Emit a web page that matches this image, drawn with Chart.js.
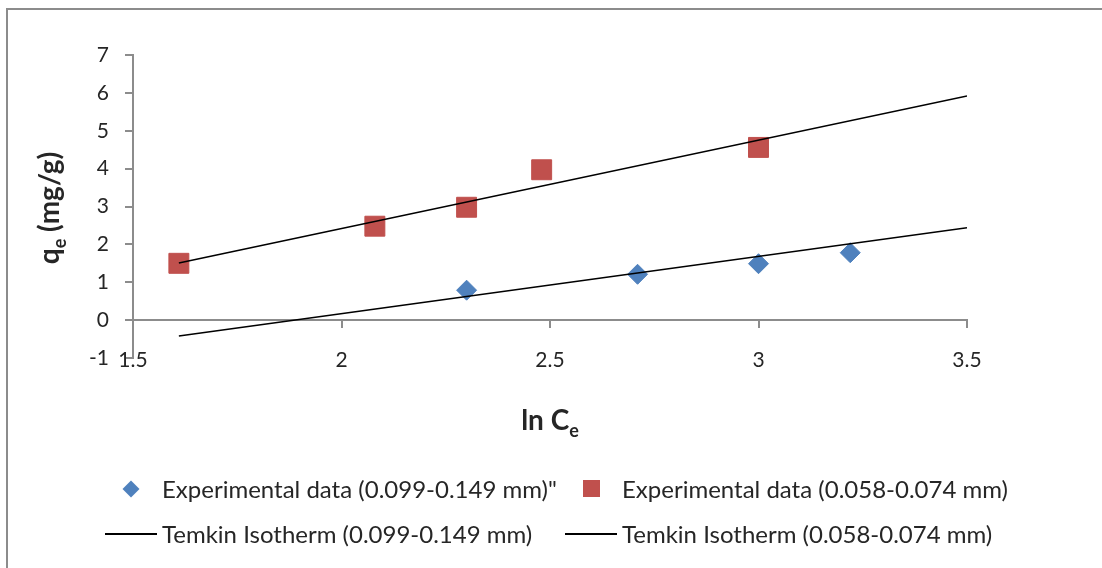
<!DOCTYPE html>
<html>
<head>
<meta charset="utf-8">
<script src="https://cdn.jsdelivr.net/npm/chart.js@4.4.0/dist/chart.umd.min.js"></script>
<style>
  html, body { margin: 0; padding: 0; background: #fff; }
  #wrap { position: relative; width: 1102px; height: 568px; overflow: hidden; font-family: Lato, sans-serif; }
  #frame { position: absolute; left: 6px; top: 8px; width: 1200px; height: 700px;
           border-left: 2px solid #8c8c8c; border-top: 2px solid #8c8c8c; }
  #chart { position: absolute; left: 0; top: 0; }
  #legend { position: absolute; left: 105px; top: 466px; display: grid;
            grid-template-columns: 460px auto; color: #262626; font-size: 24px; }
  .item { display: flex; align-items: center; height: 45px; white-space: nowrap; }
  .mark { width: 52px; height: 45px; display: flex; align-items: center; justify-content: center; margin-right: 5px; }
  .sym-diamond { width: 12px; height: 12px; transform: rotate(45deg); }
  .sym-square { width: 17px; height: 17px; }
  .sym-line { width: 52px; height: 2px; }
</style>
</head>
<body>
<div id="wrap">
  <div id="frame"></div>
  <canvas id="chart" width="1102" height="568"></canvas>
  <div id="legend"></div>
</div>
<script>
// ln Ce / qe for the two particle size fractions
const lnCeCoarse = [2.30, 2.71, 3.00, 3.22];
const qeCoarse = [0.79, 1.21, 1.49, 1.78];
const lnCeFine = [1.61, 2.08, 2.30, 2.48, 3.00];
const qeFine = [1.50, 2.48, 2.98, 3.97, 4.56];

// Temkin fit lines, end points
const fitX = [1.61, 3.5];
const fitCoarse = [-0.42, 2.44];
const fitFine = [1.51, 5.92];

const labels = [
  'Experimental data (0.099-0.149 mm)"',
  'Experimental data (0.058-0.074 mm)',
  'Temkin Isotherm (0.099-0.149 mm)',
  'Temkin Isotherm (0.058-0.074 mm)'
];

const xTicks = { min: 1.5, max: 3.5, step: 0.5 };
const yTicks = { min: -1, max: 7, step: 1 };

const BLUE = '#4F81BD';
const RED = '#C0504D';
const AXIS = '#8c8c8c';
const TEXT = '#262626';

function pts(xs, ys) {
  return xs.map((x, i) => ({ x, y: ys[i] }));
}

// axis titles with subscripts
function drawParts(ctx, parts, cx, baseline) {
  const mainFont = 'bold 28px Lato, sans-serif';
  const subFont = 'bold 18px Lato, sans-serif';
  let total = 0;
  parts.forEach(p => {
    ctx.font = p.sub ? subFont : mainFont;
    p.w = ctx.measureText(p.t).width;
    total += p.w;
  });
  let x = cx - total / 2;
  parts.forEach(p => {
    ctx.font = p.sub ? subFont : mainFont;
    ctx.fillText(p.t, x, baseline + (p.sub ? 7 : 0));
    x += p.w;
  });
}

const axisTitles = {
  id: 'axisTitles',
  afterDraw(chart) {
    const ctx = chart.ctx;
    const area = chart.chartArea;
    ctx.save();
    ctx.fillStyle = TEXT;
    ctx.textAlign = 'left';
    ctx.textBaseline = 'alphabetic';
    drawParts(ctx, [{ t: 'ln C' }, { t: 'e', sub: true }], (area.left + area.right) / 2, 430);
    ctx.translate(59, 208);
    ctx.rotate(-Math.PI / 2);
    drawParts(ctx, [{ t: 'q' }, { t: 'e', sub: true }, { t: ' (mg/g)' }], 0, 0);
    ctx.restore();
  }
};

const htmlLegend = {
  id: 'htmlLegend',
  afterUpdate(chart) {
    const box = document.getElementById('legend');
    box.innerHTML = '';
    chart.data.datasets.forEach(ds => {
      const item = document.createElement('div');
      item.className = 'item';
      const mark = document.createElement('span');
      mark.className = 'mark';
      const sym = document.createElement('span');
      if (ds.showLine) {
        sym.className = 'sym-line';
        sym.style.background = ds.borderColor;
      } else {
        sym.className = ds.pointStyle === 'rectRot' ? 'sym-diamond' : 'sym-square';
        sym.style.background = ds.backgroundColor;
      }
      mark.appendChild(sym);
      const txt = document.createElement('span');
      txt.textContent = ds.label;
      item.append(mark, txt);
      box.appendChild(item);
    });
  }
};

new Chart(document.getElementById('chart'), {
  type: 'scatter',
  data: {
    datasets: [
      { label: labels[0], data: pts(lnCeCoarse, qeCoarse), xAxisID: 'x', order: 1,
        pointStyle: 'rectRot', pointRadius: 10, backgroundColor: BLUE, borderColor: BLUE, borderWidth: 1 },
      { label: labels[1], data: pts(lnCeFine, qeFine), xAxisID: 'x', order: 1,
        pointStyle: 'rect', pointRadius: 14.1, backgroundColor: RED, borderColor: RED, borderWidth: 1 },
      { label: labels[2], data: pts(fitX, fitCoarse), xAxisID: 'x', order: 0, showLine: true,
        pointRadius: 0, borderColor: '#000', borderWidth: 1.5, fill: false },
      { label: labels[3], data: pts(fitX, fitFine), xAxisID: 'x', order: 0, showLine: true,
        pointRadius: 0, borderColor: '#000', borderWidth: 1.5, fill: false }
    ]
  },
  options: {
    responsive: false,
    animation: false,
    devicePixelRatio: 1,
    layout: { padding: { left: 0, top: 55, right: 135, bottom: 180 } },
    plugins: { legend: { display: false }, tooltip: { enabled: false } },
    scales: {
      // labels sit at the bottom of the plot, mirrored so they are not clipped
      x: {
        type: 'linear', position: 'bottom',
        min: xTicks.min, max: xTicks.max,
        afterFit(scale) { scale.height = 30; },
        border: { display: false },
        grid: { display: false, drawTicks: false },
        ticks: { stepSize: xTicks.step, mirror: true, padding: -15, color: TEXT,
                 font: { family: 'Lato', size: 21 },
                 callback: v => String(v) }
      },
      // axis line crossing at y = 0, ticks only
      x0: {
        type: 'linear', axis: 'x', position: { y: 0 },
        min: xTicks.min, max: xTicks.max,
        border: { display: true, color: AXIS, width: 2 },
        grid: { drawOnChartArea: false, drawTicks: true, tickLength: 7, color: AXIS, lineWidth: 2 },
        ticks: { stepSize: xTicks.step, display: false }
      },
      y: {
        type: 'linear', position: 'left',
        min: yTicks.min, max: yTicks.max,
        afterFit(scale) { scale.width = 133; },
        border: { display: true, color: AXIS, width: 2 },
        grid: { drawOnChartArea: false, drawTicks: true, tickLength: 8, color: AXIS, lineWidth: 2 },
        ticks: { stepSize: yTicks.step, padding: 16, color: TEXT,
                 font: { family: 'Lato', size: 21 } }
      }
    }
  },
  plugins: [axisTitles, htmlLegend]
});
</script>
</body>
</html>
